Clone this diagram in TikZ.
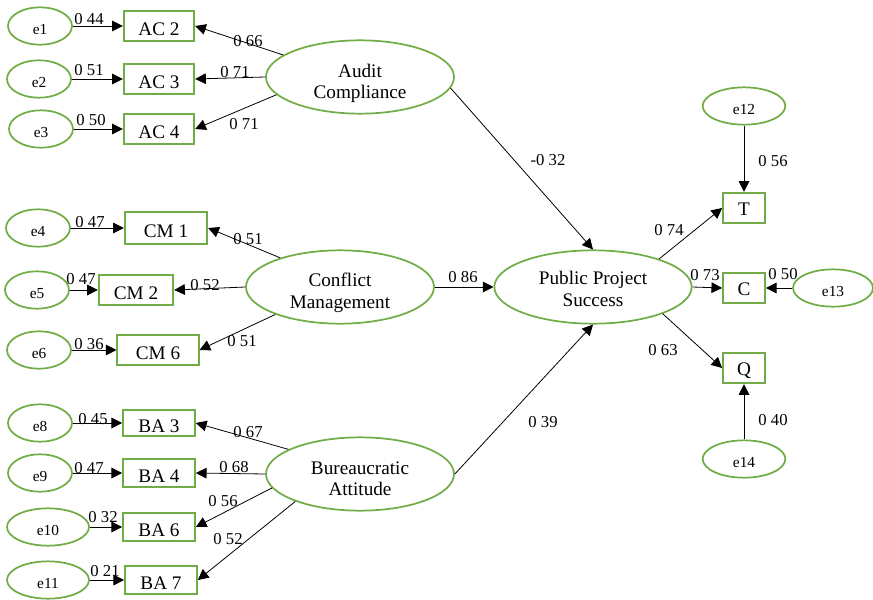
\documentclass[tikz,border=0pt]{standalone}
\usepackage{fontspec}
\setmainfont{Liberation Serif}
\usetikzlibrary{shapes.geometric,arrows.meta}
\definecolor{grn}{RGB}{112,173,71}
\newcommand\lattext[2]{\raisebox{#1}[0pt][0pt]{\begin{tabular}{@{}c@{}}#2\end{tabular}}}
\begin{document}
\begin{tikzpicture}[x=0.75pt,y=-0.75pt,
  errv/.style={ellipse, draw=grn, line width=1.3pt, minimum width=48pt, minimum height=28pt, inner sep=0pt, text height=13.2pt, text depth=0pt, font=\fontsize{11.5}{13}\selectfont},
  latent/.style={ellipse, draw=grn, line width=1.3pt, minimum width=141pt, minimum height=55pt, inner sep=0pt, font=\fontsize{14.4}{16}\selectfont},
  obs/.style={rectangle, draw=grn, line width=1.3pt, inner sep=0pt, minimum width=53pt, minimum height=22pt, text height=14.7pt, text depth=0pt, font=\fontsize{14.4}{16}\selectfont},
  obsr/.style={obs, minimum width=31.5pt, minimum height=23pt, text height=11.7pt},
  conn/.style={draw, line width=0.6pt, -{Triangle[length=8pt,width=8pt]}},
  coef/.style={inner sep=0pt, font=\fontsize{12.5}{14}\selectfont}]
\useasboundingbox (0,0) rectangle (873,599);
% latent variables
\node[latent] (AC) at (360,77) {\lattext{-8.5pt}{Audit\\Compliance}};
\node[latent] (CM) at (340,287) {\lattext{-8.2pt}{Conflict\\Management}};
\node[latent] (BA) at (360,474) {\lattext{-8.5pt}{Bureaucratic\\Attitude}};
\node[latent, minimum width=148pt] (PPS) at (593,287) {\lattext{-6.8pt}{Public Project\\Success}};
% AC group
\node[obs] (AC2) at (159,26) {AC 2};
\node[obs] (AC3) at (159,79) {AC 3};
\node[obs] (AC4) at (159,129) {AC 4};
\node[errv] (e1) at (40,26) {e1};
\node[errv] (e2) at (39,79) {e2};
\node[errv] (e3) at (41,129) {e3};
% CM group
\node[obs, minimum width=62pt, minimum height=24pt] (CM1) at (166,228) {CM 1};
\node[obs, minimum width=56pt] (CM2) at (136,290) {CM 2};
\node[obs, minimum width=61pt, minimum height=23pt] (CM6) at (158,350) {CM 6};
\node[errv] (e4) at (38,228) {e4};
\node[errv] (e5) at (37,290) {e5};
\node[errv] (e6) at (39,350) {e6};
% BA group
\node[obs, minimum width=54pt, minimum height=20pt] (BA3) at (159,423) {BA 3};
\node[obs, minimum width=54pt, minimum height=21pt] (BA4) at (159,473) {BA 4};
\node[obs, minimum width=54pt, minimum height=21pt] (BA6) at (159,527) {BA 6};
\node[obs, minimum width=54pt, minimum height=21pt] (BA7) at (161,580) {BA 7};
\node[errv] (e8) at (40,423) {e8};
\node[errv] (e9) at (40,473) {e9};
\node[errv, minimum width=61.5pt] (e10) at (48,527) {e10};
\node[errv, minimum width=61.5pt] (e11) at (48,580) {e11};
% outcome indicators
\node[obsr] (T) at (744,208) {T};
\node[obsr] (C) at (744,288) {C};
\node[obsr] (Q) at (744,368) {Q};
\node[errv, minimum width=62pt] (e12) at (744,106) {e12};
\node[errv, minimum width=60pt] (e13) at (833,288) {e13};
\node[errv, minimum width=62pt] (e14) at (744,459) {e14};
% error arrows
\draw[conn] (e1) -- (AC2);
\draw[conn] (e2) -- (AC3);
\draw[conn] (e3) -- (AC4);
\draw[conn] (e4) -- (CM1);
\draw[conn] (e5) -- (CM2);
\draw[conn] (e6) -- (CM6);
\draw[conn] (e8) -- (BA3);
\draw[conn] (e9) -- (BA4);
\draw[conn] (e10) -- (BA6);
\draw[conn] (e11) -- (BA7);
\draw[conn] (e12) -- (T);
\draw[conn] (e13) -- (C);
\draw[conn] (e14) -- (Q);
% loadings
\draw[conn] (AC.164) -- (AC2.east);
\draw[conn] (AC.west) -- (AC3.east);
\draw[conn] (AC.192) -- (AC4.east);
\draw[conn] (CM.154) -- (CM1.east);
\draw[conn] (CM.west) -- (CM2.east);
\draw[conn] (CM.203) -- (CM6.east);
\draw[conn] (BA.161) -- (BA3.east);
\draw[conn] (BA.west) -- (BA4.east);
\draw[conn] (BA.189) -- (BA6.east);
\draw[conn] (BA.203) -- (BA7.east);
\draw[conn] (PPS.23) -- (T.west);
\draw[conn] (PPS.east) -- (C.west);
\draw[conn] (PPS.-21) -- (Q.west);
% structural paths
\draw[conn] (AC.-7) -- (PPS.north);
\draw[conn] (CM.east) -- (PPS.west);
\draw[conn] (BA.east) -- (PPS.south);
% coefficients
\node[coef] (c1) at (89,19) {0 44};
\node[coef] (c2) at (89,70) {0 51};
\node[coef] (c3) at (91,120) {0 50};
\node[coef] (c4) at (248,41) {0 66};
\node[coef] (c5) at (235,72) {0 71};
\node[coef] (c6) at (244,124) {0 71};
\node[coef] (c7) at (90,222) {0 47};
\node[coef] (c8) at (81,279) {0 47};
\node[coef] (c9) at (89,344) {0 36};
\node[coef] (c10) at (248,239) {0 51};
\node[coef] (c11) at (205,285) {0 52};
\node[coef] (c12) at (242,341) {0 51};
\node[coef] (c13) at (463,277) {0 86};
\node[coef] (c14) at (548,160) {-0 32};
\node[coef] (c15) at (93,419) {0 45};
\node[coef] (c16) at (89,468) {0 47};
\node[coef] (c17) at (103,517) {0 32};
\node[coef] (c18) at (105,571) {0 21};
\node[coef] (c19) at (248,432) {0 67};
\node[coef] (c20) at (234,467) {0 68};
\node[coef] (c21) at (223,501) {0 56};
\node[coef] (c22) at (228,539) {0 52};
\node[coef] (c23) at (543,422) {0 39};
\node[coef] (c24) at (773,161) {0 56};
\node[coef] (c25) at (669,230) {0 74};
\node[coef] (c26) at (705,275) {0 73};
\node[coef] (c27) at (783,274) {0 50};
\node[coef] (c28) at (663,350) {0 63};
\node[coef] (c29) at (773,420) {0 40};
\end{tikzpicture}
\end{document}
